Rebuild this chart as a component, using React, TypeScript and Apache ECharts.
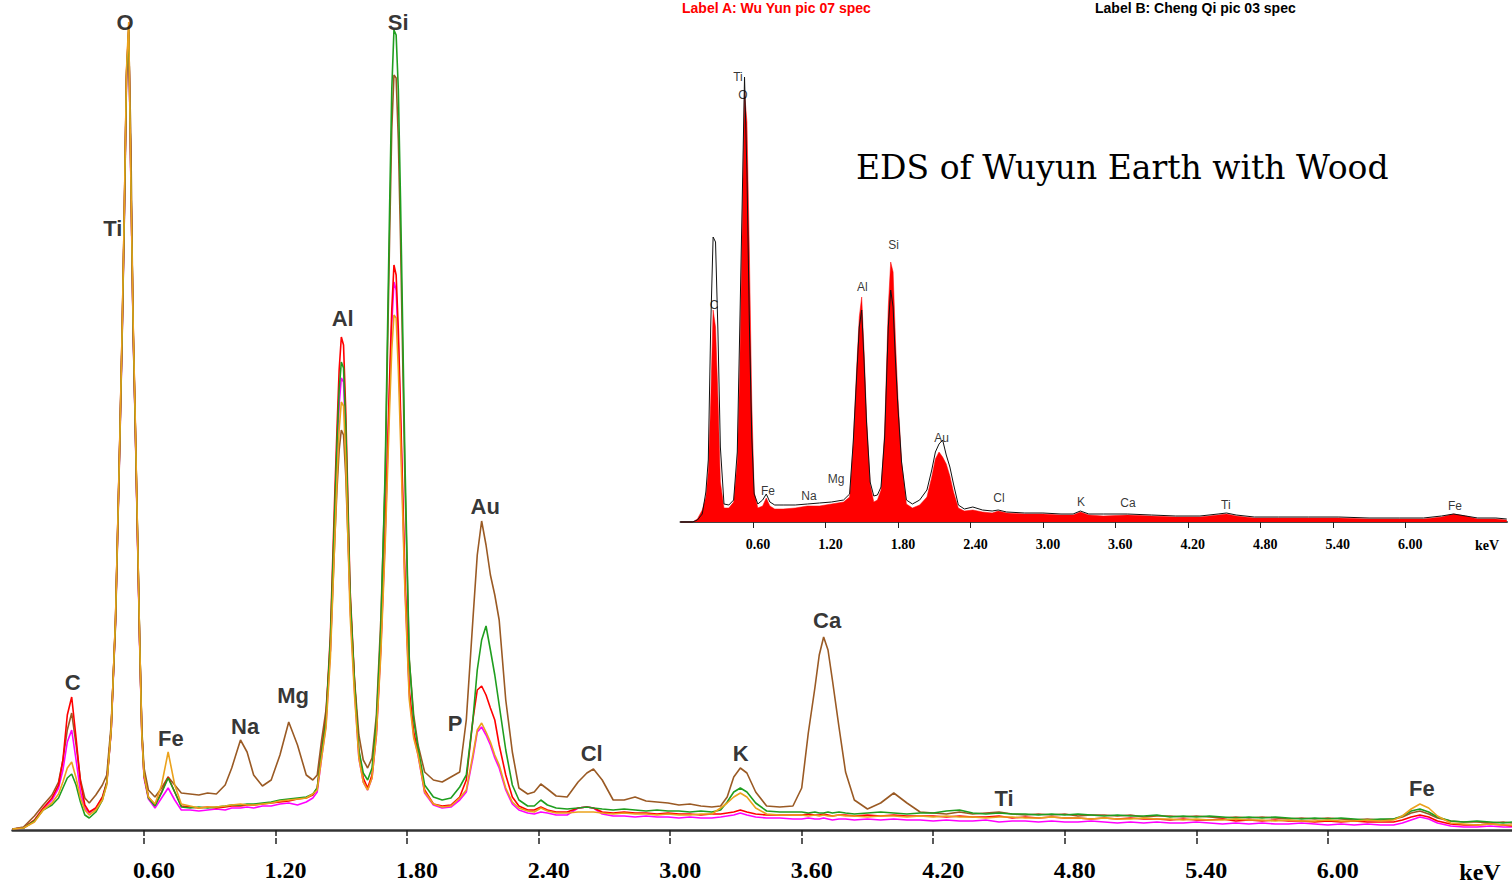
import React, { useEffect, useRef } from "react";
import * as echarts from "echarts";

// ---------- main spectrum (energy in keV, counts in chart units) ----------
const mainEnergy = [
  0.00, 0.05, 0.10, 0.14, 0.18, 0.21, 0.23, 0.25, 0.27, 0.29, 0.31, 0.33, 0.35, 0.38,
  0.41, 0.43, 0.45, 0.47, 0.49, 0.50, 0.51, 0.52, 0.53, 0.54, 0.55, 0.56, 0.57, 0.58, 0.59, 0.60, 0.62,
  0.65, 0.68, 0.71, 0.74, 0.77, 0.81, 0.85, 0.89, 0.93, 0.97, 1.00, 1.04, 1.07, 1.10, 1.14, 1.18, 1.22, 1.26, 1.30, 1.34, 1.37, 1.39,
  1.41, 1.43, 1.45, 1.47, 1.48, 1.49, 1.50, 1.51, 1.52, 1.54, 1.56, 1.58, 1.60, 1.62, 1.64, 1.66,
  1.68, 1.70, 1.72, 1.73, 1.74, 1.75, 1.76, 1.77, 1.79, 1.81, 1.83, 1.85, 1.88, 1.92, 1.96, 2.00,
  2.04, 2.07, 2.10, 2.12, 2.14, 2.16, 2.18, 2.20, 2.22, 2.25, 2.28, 2.31, 2.35, 2.38, 2.41, 2.44, 2.48, 2.53,
  2.58, 2.62, 2.65, 2.69, 2.74, 2.79, 2.84, 2.89, 2.94, 2.99, 3.04, 3.09, 3.14, 3.19, 3.23, 3.26, 3.29, 3.32, 3.35, 3.39, 3.44, 3.50, 3.56,
  3.60, 3.63, 3.66, 3.68, 3.70, 3.72, 3.74, 3.77, 3.80, 3.84, 3.90, 3.96, 4.02, 4.08, 4.14,
  4.20, 4.26, 4.32, 4.38, 4.44, 4.50, 4.56, 4.62, 4.68, 4.74, 4.80, 4.86, 4.92, 4.98, 5.04, 5.10, 5.16, 5.22,
  5.28, 5.34, 5.40, 5.46, 5.52, 5.58, 5.64, 5.70, 5.76, 5.82, 5.88, 5.94, 6.00, 6.06, 6.12, 6.18, 6.24, 6.30,
  6.34, 6.38, 6.42, 6.46, 6.50, 6.56, 6.62, 6.68, 6.74, 6.80, 6.84,
];

const brownCounts = [
  1, 3, 14, 25, 35, 48, 70, 100, 117, 85, 50, 32, 27, 35,
  45, 55, 105, 205, 390, 490, 610, 750, 795, 690, 500, 405, 295, 190, 100, 62, 40,
  33, 42, 53, 45, 37, 36, 35, 37, 36, 45, 62, 90, 78, 55, 44, 50, 75, 108, 85, 55, 50, 55,
  90, 120, 180, 290, 340, 380, 400, 395, 355, 230, 150, 95, 70, 62, 72, 115,
  210, 350, 590, 700, 755, 752, 690, 590, 350, 170, 115, 85, 58, 50, 48, 53,
  58, 110, 210, 275, 309, 285, 255, 235, 210, 130, 78, 42, 36, 38, 46, 41, 34, 33,
  48, 57, 61, 50, 30, 30, 33, 29, 28, 27, 25, 26, 24, 23, 24, 33, 53, 62, 57, 38, 24, 23, 24,
  42, 97, 142, 175, 193, 180, 150, 103, 58, 30, 21, 27, 37, 27, 18,
  17, 16, 18, 16, 17, 18, 16, 15, 16, 15, 16, 14, 15, 15, 14, 15, 13, 14,
  14, 13, 14, 13, 12, 13, 12, 13, 12, 11, 12, 11, 12, 11, 10, 11, 10, 11,
  13, 17, 19, 16, 12, 9, 8, 8, 7, 8, 7,
];

const greenCounts = [
  1, 2, 9, 20, 25, 32, 42, 52, 56, 45, 28, 15, 12, 18,
  30, 47, 100, 210, 395, 495, 615, 755, 800, 655, 505, 405, 300, 190, 97, 55, 32,
  24, 37, 52, 38, 23, 22, 23, 22, 23, 24, 25, 25, 26, 26, 27, 28, 30, 31, 32, 33, 36, 42,
  78, 110, 190, 320, 385, 440, 468, 462, 405, 235, 148, 80, 57, 50, 62, 108,
  200, 360, 620, 740, 800, 795, 740, 630, 370, 170, 110, 82, 45, 33, 30, 32,
  43, 55, 110, 160, 190, 204, 180, 155, 125, 80, 45, 30, 24, 24, 30, 25, 22, 21,
  22, 23, 22, 21, 20, 21, 20, 19, 20, 19, 19, 18, 19, 18, 20, 28, 38, 42, 38, 27, 19, 18, 18,
  18, 17, 18, 17, 17, 18, 17, 18, 17, 16, 17, 18, 17, 16, 17,
  17, 19, 20, 17, 16, 17, 16, 16, 15, 16, 15, 16, 15, 14, 15, 14, 14, 15,
  13, 14, 13, 14, 13, 12, 13, 12, 13, 12, 11, 12, 11, 12, 11, 10, 11, 11,
  14, 19, 21, 18, 13, 9, 8, 9, 8, 7, 8,
];

const redCounts = [
  1, 2, 10, 22, 32, 45, 70, 115, 133, 92, 48, 25, 18, 22,
  33, 48, 100, 212, 398, 498, 618, 758, 802, 652, 508, 408, 298, 188, 98, 55, 33,
  25, 38, 53, 38, 24, 23, 22, 23, 22, 23, 24, 24, 25, 25, 26, 27, 28, 29, 31, 32, 35, 42,
  80, 113, 195, 335, 400, 460, 493, 485, 420, 240, 150, 78, 52, 42, 55, 100,
  185, 300, 450, 520, 565, 555, 500, 420, 255, 140, 98, 78, 40, 26, 24, 25,
  33, 50, 110, 140, 144, 135, 122, 110, 85, 55, 33, 24, 20, 20, 23, 20, 18, 18,
  22, 23, 22, 18, 17, 18, 17, 17, 16, 17, 16, 16, 15, 16, 16, 17, 18, 20, 18, 16, 15, 15, 15,
  15, 16, 15, 15, 16, 15, 14, 15, 15, 14, 15, 14, 15, 14, 14,
  14, 13, 14, 13, 13, 14, 12, 13, 12, 13, 12, 12, 11, 12, 11, 12, 11, 11,
  10, 11, 10, 10, 11, 9, 10, 9, 10, 9, 9, 8, 9, 8, 9, 8, 8, 8,
  10, 13, 15, 13, 9, 6, 5, 5, 6, 5, 4,
];

const magentaCounts = [
  1, 2, 9, 21, 30, 42, 60, 88, 100, 70, 38, 22, 17, 22,
  32, 47, 98, 208, 392, 492, 612, 752, 798, 648, 502, 402, 293, 185, 95, 52, 31,
  22, 32, 42, 30, 20, 20, 19, 20, 21, 20, 22, 22, 23, 22, 24, 24, 26, 27, 25, 28, 32, 38,
  72, 105, 180, 305, 370, 425, 452, 448, 390, 225, 140, 72, 48, 40, 52, 95,
  180, 292, 440, 505, 548, 540, 485, 410, 245, 135, 95, 75, 37, 25, 22, 23,
  30, 38, 72, 98, 103, 95, 85, 72, 62, 40, 26, 20, 17, 16, 18, 17, 15, 15,
  22, 23, 22, 16, 14, 14, 13, 14, 13, 13, 12, 13, 12, 12, 13, 14, 15, 17, 15, 13, 12, 12, 11,
  11, 12, 11, 11, 12, 11, 10, 11, 11, 10, 11, 10, 11, 10, 10,
  9, 10, 9, 9, 10, 8, 9, 9, 8, 9, 8, 8, 9, 8, 7, 8, 7, 8,
  7, 7, 8, 7, 6, 7, 6, 7, 6, 6, 7, 6, 5, 6, 5, 6, 5, 5,
  7, 10, 13, 11, 7, 4, 3, 3, 4, 3, 3,
];

const orangeCounts = [
  1, 2, 8, 20, 27, 36, 48, 62, 68, 52, 32, 20, 15, 20,
  30, 45, 100, 212, 395, 500, 620, 760, 808, 650, 510, 410, 300, 190, 95, 55, 33,
  26, 45, 78, 45, 26, 24, 22, 23, 23, 24, 25, 26, 25, 25, 26, 27, 29, 30, 31, 32, 36, 40,
  72, 102, 172, 290, 350, 400, 428, 424, 370, 215, 135, 72, 48, 40, 52, 95,
  175, 285, 420, 480, 515, 512, 460, 390, 240, 130, 92, 75, 38, 26, 23, 24,
  32, 40, 75, 100, 107, 98, 88, 75, 65, 42, 28, 22, 19, 18, 22, 19, 17, 17,
  18, 18, 18, 17, 16, 17, 16, 16, 15, 16, 15, 15, 16, 16, 22, 27, 33, 37, 33, 22, 16, 15, 15,
  15, 14, 15, 14, 15, 14, 14, 15, 14, 14, 13, 14, 14, 13, 14,
  13, 14, 13, 13, 12, 13, 13, 12, 12, 13, 12, 12, 11, 12, 11, 11, 12, 11,
  11, 10, 11, 10, 10, 11, 10, 10, 9, 10, 9, 9, 10, 9, 9, 10, 9, 10,
  14, 21, 26, 22, 14, 7, 6, 5, 6, 5, 5,
];

// ---------- inset spectrum ----------
const insetEnergy = [
  0.00, 0.10, 0.14, 0.18, 0.21, 0.23, 0.25, 0.27, 0.29, 0.31,
  0.33, 0.36, 0.40, 0.44, 0.47, 0.49, 0.51, 0.53, 0.55, 0.57,
  0.59, 0.61, 0.64, 0.68, 0.71, 0.74, 0.78, 0.85, 0.95, 1.05,
  1.15, 1.25, 1.35, 1.40, 1.43, 1.46, 1.48, 1.50, 1.52, 1.54,
  1.57, 1.60, 1.63, 1.66, 1.69, 1.72, 1.74, 1.76, 1.78, 1.80,
  1.83, 1.87, 1.92, 1.98, 2.04, 2.08, 2.11, 2.14, 2.17, 2.20,
  2.23, 2.26, 2.30, 2.35, 2.42, 2.50, 2.58, 2.63, 2.70, 2.85,
  3.00, 3.15, 3.25, 3.31, 3.38, 3.50, 3.70, 3.90, 4.10, 4.30,
  4.45, 4.52, 4.60, 4.75, 4.95, 5.20, 5.45, 5.70, 5.95, 6.15,
  6.30, 6.40, 6.50, 6.60, 6.75, 6.84,
];

const labelACounts = [
  0, 0, 3, 12, 25, 50, 120, 212, 195, 125,
  40, 14, 14, 20, 60, 150, 290, 430, 400, 270,
  120, 30, 14, 16, 24, 16, 13, 13, 14, 16,
  16, 18, 20, 25, 78, 158, 205, 225, 170, 105,
  38, 20, 22, 32, 90, 215, 260, 250, 180, 125,
  60, 18, 14, 17, 25, 45, 63, 70, 65, 58,
  46, 30, 14, 11, 12, 10, 9, 11, 9, 8,
  8, 7, 7, 10, 7, 6, 7, 6, 5, 5,
  7, 8, 6, 4, 4, 4, 4, 3, 3, 3,
  5, 8, 6, 3, 3, 2,
];

const labelBCounts = [
  0, 0, 2, 8, 30, 62, 195, 285, 280, 190,
  75, 18, 17, 22, 70, 190, 315, 445, 350, 200,
  85, 28, 18, 22, 28, 20, 17, 17, 17, 18,
  19, 20, 22, 28, 80, 150, 195, 212, 160, 100,
  40, 26, 27, 35, 85, 195, 232, 215, 160, 115,
  60, 22, 18, 22, 32, 52, 70, 78, 82, 67,
  55, 38, 17, 13, 15, 12, 11, 12, 10, 9,
  9, 8, 8, 11, 8, 8, 8, 7, 6, 6,
  8, 9, 7, 5, 5, 5, 5, 4, 4, 4,
  6, 8, 6, 4, 4, 3,
];

// ---------- axis ticks and peak annotations ----------
const tickValues = [0.6, 1.2, 1.8, 2.4, 3.0, 3.6, 4.2, 4.8, 5.4, 6.0];

const mainLabelNames = ["O", "Si", "Ti", "Al", "Au", "Ca", "C", "Fe", "Na", "Mg", "P", "Cl", "K", "Ti", "Fe"];
const mainLabelEnergy = [0.513, 1.759, 0.458, 1.506, 2.156, 3.716, 0.275, 0.722, 1.061, 1.28, 2.019, 2.642, 3.322, 4.523, 6.429];
const mainLabelHeight = [808, 808, 602, 512, 324, 210, 148, 92, 104, 135, 107, 77, 77, 32, 42];

const insetLabelNames = ["Ti", "O", "C", "Fe", "Na", "Mg", "Al", "Si", "Au", "Cl", "K", "Ca", "Ti", "Fe"];
const insetLabelEnergy = [0.476, 0.517, 0.277, 0.724, 1.064, 1.287, 1.506, 1.763, 2.161, 2.637, 3.315, 3.704, 4.515, 6.411];
const insetLabelHeight = [445, 427, 217, 31, 26, 43, 235, 277, 84, 24, 20, 19, 17, 16];

const titleText = "EDS of Wuyun Earth with Wood";
const labelAText = "Label A: Wu Yun pic 07 spec";
const labelBText = "Label B: Cheng Qi pic 03 spec";

const pair = (xs: number[], ys: number[]) => xs.map((x, i) => [x, ys[i]]);

export default function App() {
  const ref = useRef<HTMLDivElement>(null);

  useEffect(() => {
    if (!ref.current) return;
    const chart = echarts.init(ref.current, undefined, { renderer: "svg" });

    const mainLines = [
      { name: "brown", color: "#9a5a24", data: brownCounts },
      { name: "magenta", color: "#ff00ff", data: magentaCounts },
      { name: "red", color: "#ff0000", data: redCounts },
      { name: "green", color: "#1f9e1f", data: greenCounts },
      { name: "orange", color: "#eba21c", data: orangeCounts },
    ];

    const tickLabelStyle = {
      fontFamily: "Liberation Serif",
      fontWeight: "bold" as const,
      color: "#000",
    };

    const option: any = {
      animation: false,
      backgroundColor: "#ffffff",
      grid: [
        { left: 12.5, right: 0, top: 10, bottom: 42, containLabel: false },
        { left: 680.5, width: 826.5, top: 60, height: 468, containLabel: false },
      ],
      xAxis: [
        {
          gridIndex: 0, type: "value", min: 0, max: 6.84, interval: 0.6, position: "bottom",
          axisLine: { show: true, lineStyle: { color: "#333", width: 2.5 } },
          axisTick: { show: true, length: 6, customValues: tickValues, lineStyle: { color: "#222", width: 1.5 } },
          axisLabel: {
            ...tickLabelStyle, fontSize: 24, margin: 14, padding: [0, 0, 0, 20],
            customValues: tickValues, formatter: (v: number) => v.toFixed(2),
          },
          splitLine: { show: false },
        },
        {
          gridIndex: 0, type: "value", min: 0, max: 6.84, interval: 0.6, position: "bottom",
          axisLine: { show: false },
          axisTick: { show: true, inside: true, length: 6, customValues: tickValues, lineStyle: { color: "#222", width: 1.5 } },
          axisLabel: { show: false },
          splitLine: { show: false },
        },
        {
          gridIndex: 1, type: "value", min: 0, max: 6.842, interval: 0.6, position: "bottom",
          axisLine: { show: true, lineStyle: { color: "#444", width: 2 } },
          axisTick: { show: true, length: 4, customValues: tickValues, lineStyle: { color: "#222", width: 1 } },
          axisLabel: {
            ...tickLabelStyle, fontSize: 14, margin: 9, padding: [0, 0, 0, 10],
            customValues: tickValues, formatter: (v: number) => v.toFixed(2),
          },
          splitLine: { show: false },
        },
        {
          gridIndex: 1, type: "value", min: 0, max: 6.842, interval: 0.6, position: "bottom",
          axisLine: { show: false },
          axisTick: { show: true, inside: true, length: 4, customValues: tickValues, lineStyle: { color: "#222", width: 1 } },
          axisLabel: { show: false },
          splitLine: { show: false },
        },
      ],
      yAxis: [
        { gridIndex: 0, type: "value", min: -14, max: 820, show: false, splitLine: { show: false } },
        { gridIndex: 1, type: "value", min: -6, max: 462, show: false, splitLine: { show: false } },
      ],
      series: [
        ...mainLines.map((s) => ({
          type: "line",
          name: s.name,
          xAxisIndex: 0,
          yAxisIndex: 0,
          data: pair(mainEnergy, s.data),
          showSymbol: false,
          symbol: "none",
          lineStyle: { color: s.color, width: 1.6 },
          itemStyle: { color: s.color },
          silent: true,
        })),
        {
          type: "line",
          name: "Label A",
          xAxisIndex: 2,
          yAxisIndex: 1,
          data: pair(insetEnergy, labelACounts),
          showSymbol: false,
          symbol: "none",
          lineStyle: { color: "#ff0000", width: 0.5 },
          areaStyle: { color: "#ff0000", opacity: 1 },
          silent: true,
        },
        {
          type: "line",
          name: "Label B",
          xAxisIndex: 2,
          yAxisIndex: 1,
          data: pair(insetEnergy, labelBCounts),
          showSymbol: false,
          symbol: "none",
          lineStyle: { color: "#111", width: 1 },
          silent: true,
        },
        {
          type: "scatter",
          xAxisIndex: 0,
          yAxisIndex: 0,
          symbolSize: 1,
          itemStyle: { color: "rgba(0,0,0,0)" },
          data: mainLabelNames.map((n, i) => ({ name: n, value: [mainLabelEnergy[i], mainLabelHeight[i]] })),
          label: {
            show: true, position: "inside", formatter: "{b}",
            fontFamily: "Liberation Sans", fontWeight: "bold", fontSize: 22, color: "#000",
          },
          silent: true,
          z: 10,
        },
        {
          type: "scatter",
          xAxisIndex: 2,
          yAxisIndex: 1,
          symbolSize: 1,
          itemStyle: { color: "rgba(0,0,0,0)" },
          data: insetLabelNames.map((n, i) => ({ name: n, value: [insetLabelEnergy[i], insetLabelHeight[i]] })),
          label: {
            show: true, position: "inside", formatter: "{b}",
            fontFamily: "Liberation Sans", fontSize: 12, color: "#000",
          },
          silent: true,
          z: 10,
        },
      ],
      graphic: [
        {
          type: "text", x: 682, y: 8,
          style: { text: labelAText, fill: "#ff0000", font: "bold 14px 'Liberation Sans'", textVerticalAlign: "middle" },
        },
        {
          type: "text", x: 1095, y: 8,
          style: { text: labelBText, fill: "#000", font: "bold 14px 'Liberation Sans'", textVerticalAlign: "middle" },
        },
        {
          type: "text", x: 856, y: 167,
          style: { text: titleText, fill: "#000", font: "33px 'DejaVu Serif'", textVerticalAlign: "middle" },
        },
        {
          type: "text", x: 1480, y: 872,
          style: { text: "keV", fill: "#000", font: "bold 24px 'Liberation Serif'", textAlign: "center", textVerticalAlign: "middle" },
        },
        {
          type: "text", x: 1487, y: 545,
          style: { text: "keV", fill: "#000", font: "bold 14px 'Liberation Serif'", textAlign: "center", textVerticalAlign: "middle" },
        },
      ],
    };

    chart.setOption(option);
    return () => chart.dispose();
  }, []);

  return (
    <div
      ref={ref}
      style={{ position: "fixed", left: 0, top: 0, width: 1512, height: 886, background: "#fff" }}
    />
  );
}
